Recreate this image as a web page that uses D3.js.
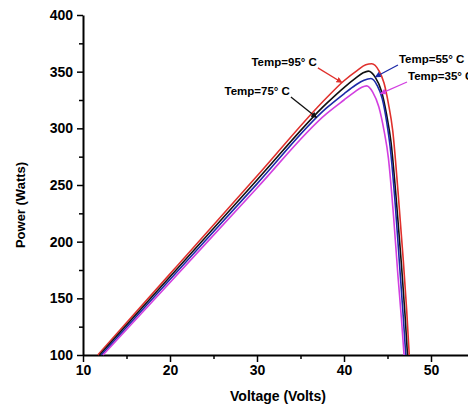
<!DOCTYPE html>
<html>
    <head>
        <title>PV Power vs Voltage</title>
        <style>
            body { margin: 0; background: #fff; }
            .axis path, .axis line { stroke: #000; }
            .axis path { stroke-width: 2px; }
            .axis line { stroke-width: 1.5px; }
            .axis text { font: bold 14px "Liberation Sans", Arial, sans-serif; fill: #000; }
        </style>
        <script src="https://cdnjs.cloudflare.com/ajax/libs/d3/7.8.5/d3.min.js"></script>
    </head>
    <body>
        <div id="chart"></div>
        <script>
            // values
            const temps = ["95", "75", "55", "35"];
            const seriesColors = ["#e0302c", "#111111", "#1c2aa8", "#d23fe0"];

            const voltRed = [11.7, 20, 30, 38, 40, 41.5, 42.5, 43.2, 44, 44.6, 45.1, 45.6, 46.2, 46.8, 47.2, 47.5];
            const powerRed = [100, 171.6, 257.9, 327, 342, 351, 356, 357, 351, 340, 322, 298, 245, 185, 140, 100];

            const voltBlack = [11.9, 20, 30, 38, 40, 41.3, 42.2, 42.8, 43.6, 44.3, 44.9, 45.4, 46, 46.6, 47, 47.3];
            const powerBlack = [100, 169, 254.4, 322, 336, 344, 349, 350.5, 345, 333, 312, 288, 238, 180, 137, 100];

            const voltBlue = [12.1, 20, 30, 38, 40, 41.3, 42.3, 43.1, 43.8, 44.4, 44.9, 45.3, 45.9, 46.4, 46.8, 47.1];
            const powerBlue = [100, 166.6, 251, 318, 330.5, 338, 342.5, 344, 338, 326, 306, 284, 232, 178, 135, 100];

            const voltMagenta = [12.3, 20, 30, 38, 40, 41.2, 42, 42.6, 43.3, 44, 44.6, 45.1, 45.7, 46.2, 46.6, 46.9];
            const powerMagenta = [100, 164, 247.4, 313, 325, 332, 336, 337.5, 332, 319, 298, 274, 222, 170, 132, 100];

            const xTicks = [10, 20, 30, 40, 50];
            const xMinorTicks = [15, 25, 35, 45, 55];
            const yTicks = [100, 150, 200, 250, 300, 350, 400];
            const yMinorTicks = [125, 175, 225, 275, 325, 375];

            // annotation: label text, arrow start (V, P), arrow tip (V, P)
            const noteText = ["Temp=95\u00b0 C", "Temp=75\u00b0 C", "Temp=55\u00b0 C", "Temp=35\u00b0 C"];
            const noteFrom = [[37.0, 353.3], [33.9, 327.7], [46.2, 355.9], [47.24, 340.9]];
            const noteTo = [[39.75, 340.5], [36.85, 309.5], [43.6, 345.3], [44.2, 330.6]];

            const w = 468, h = 412;
            const margin = {left: 83, top: 15, bottom: 57};

            const svg = d3.select("#chart").append("svg")
                .attr("width", w)
                .attr("height", h);

            const x = d3.scaleLinear().domain([10, 55]).range([margin.left, margin.left + 45 * 8.7]);
            const y = d3.scaleLinear().domain([100, 400]).range([h - margin.bottom, margin.top]);

            // axes
            svg.append("g").attr("class", "axis")
                .attr("transform", "translate(0," + y(100) + ")")
                .call(d3.axisBottom(x).tickValues(xMinorTicks).tickSize(4).tickFormat(""))
                .select(".domain").remove();
            svg.append("g").attr("class", "axis")
                .attr("transform", "translate(0," + y(100) + ")")
                .call(d3.axisBottom(x).tickValues(xTicks).tickSize(7).tickSizeOuter(0).tickPadding(3));

            svg.append("g").attr("class", "axis")
                .attr("transform", "translate(" + x(10) + ",0)")
                .call(d3.axisLeft(y).tickValues(yMinorTicks).tickSize(4).tickFormat(""))
                .select(".domain").remove();
            svg.append("g").attr("class", "axis")
                .attr("transform", "translate(" + x(10) + ",0)")
                .call(d3.axisLeft(y).tickValues(yTicks).tickSize(6).tickSizeOuter(0).tickPadding(4));

            // axis titles
            svg.append("text")
                .attr("x", 278).attr("y", 401)
                .attr("text-anchor", "middle")
                .style("font", "bold 14px 'Liberation Sans', Arial, sans-serif")
                .text("Voltage (Volts)");
            svg.append("text")
                .attr("transform", "translate(25,205) rotate(-90)")
                .attr("text-anchor", "middle")
                .style("font", "bold 13px 'Liberation Sans', Arial, sans-serif")
                .text("Power (Watts)");

            // curves
            const series = [
                [voltRed, powerRed],
                [voltBlack, powerBlack],
                [voltBlue, powerBlue],
                [voltMagenta, powerMagenta]
            ];
            const line = d3.line()
                .x(d => x(d[0]))
                .y(d => y(d[1]))
                .curve(d3.curveMonotoneX);

            series.forEach((s, i) => {
                const pts = s[0].map((v, j) => [v, s[1][j]]);
                svg.append("path")
                    .datum(pts)
                    .attr("fill", "none")
                    .attr("stroke", seriesColors[i])
                    .attr("stroke-width", 1.6)
                    .attr("d", line);
            });

            // arrowheads
            const defs = svg.append("defs");
            seriesColors.forEach((c, i) => {
                defs.append("marker")
                    .attr("id", "arrow" + i)
                    .attr("viewBox", "0 0 10 10")
                    .attr("refX", 9).attr("refY", 5)
                    .attr("markerWidth", 6).attr("markerHeight", 6)
                    .attr("markerUnits", "userSpaceOnUse")
                    .attr("orient", "auto")
                    .append("path")
                    .attr("d", "M0,0 L10,5 L0,10 z")
                    .attr("fill", c);
            });

            // annotations
            noteText.forEach((t, i) => {
                svg.append("line")
                    .attr("x1", x(noteFrom[i][0])).attr("y1", y(noteFrom[i][1]))
                    .attr("x2", x(noteTo[i][0])).attr("y2", y(noteTo[i][1]))
                    .attr("stroke", seriesColors[i])
                    .attr("stroke-width", 1.3)
                    .attr("marker-end", "url(#arrow" + i + ")");
                const left = noteFrom[i][0] > noteTo[i][0];
                svg.append("text")
                    .attr("x", x(noteFrom[i][0]) + (left ? 1 : -1))
                    .attr("y", y(noteFrom[i][1]) - 2)
                    .attr("text-anchor", left ? "start" : "end")
                    .style("font", "bold 11.5px 'Liberation Sans', Arial, sans-serif")
                    .attr("fill", "#000")
                    .text(t);
            });
        </script>
    </body>
</html>
